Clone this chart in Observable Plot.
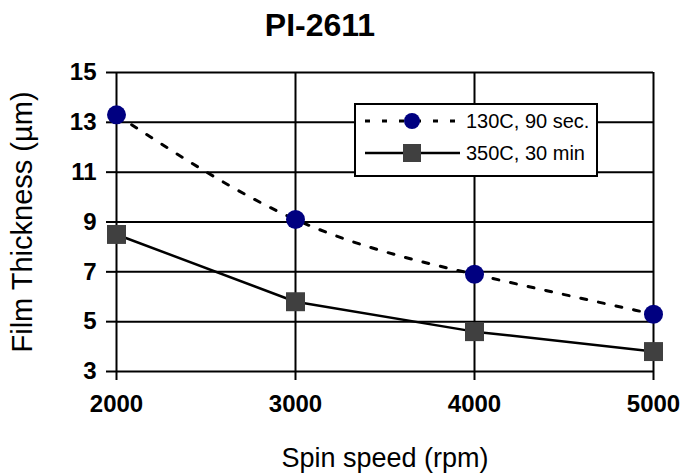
<!DOCTYPE html>
<html><head><meta charset="utf-8">
<script src="https://cdn.jsdelivr.net/npm/d3@7"></script>
<script src="https://cdn.jsdelivr.net/npm/@observablehq/plot@0.6"></script>
<style>
body{margin:0;background:#fff;font-family:"Liberation Sans",Arial,sans-serif;}
#wrap{position:relative;width:683px;height:473px;overflow:hidden;}
#title{position:absolute;left:0;top:0;width:640px;height:50px;text-align:center;font-weight:bold;font-size:32px;line-height:50px;}
#chart{position:absolute;left:0;top:50px;}
#legend{position:absolute;left:354px;top:103px;width:240px;height:70px;border:2px solid #000;background:#fff;}
.row{position:absolute;left:0;width:240px;height:32px;}
.row svg{position:absolute;left:0;top:0;}
.row span{position:absolute;left:110px;top:0;line-height:32px;font-size:20px;white-space:nowrap;}
</style></head><body>
<div id="wrap"><div id="title">PI-2611</div><div id="chart"></div><div id="legend"></div></div>
<script>
const speeds = [2000, 3000, 4000, 5000];
const soft = [13.3, 9.1, 6.9, 5.3];
const cured = [8.5, 5.8, 4.6, 3.8];
const seriesNames = ["130C, 90 sec.", "350C, 30 min"];
const yTicks = [3, 5, 7, 9, 11, 13, 15];
const xTicks = [2000, 3000, 4000, 5000];
const xTitle = "Spin speed (rpm)";
const yTitle = "Film Thickness (µm)";

const softData = speeds.map((s, i) => ({speed: s, t: soft[i]}));
const curedData = speeds.map((s, i) => ({speed: s, t: cured[i]}));
const font = '"Liberation Sans", Arial, sans-serif';

const chart = Plot.plot({
  width: 683, height: 423,
  marginTop: 22, marginBottom: 102, marginLeft: 116, marginRight: 30,
  style: {fontFamily: font, background: "white", color: "black", overflow: "visible"},
  x: {domain: [2000, 5000]},
  y: {domain: [3, 15]},
  marks: [
    Plot.gridY(yTicks, {stroke: "black", strokeOpacity: 1, strokeWidth: 2}),
    Plot.gridX(xTicks, {stroke: "black", strokeOpacity: 1, strokeWidth: 2}),
    Plot.axisY(yTicks, {tickSize: 10, tickPadding: 10, fontSize: 24, fontWeight: "bold", strokeWidth: 2, label: null}),
    Plot.axisX(xTicks, {tickSize: 9, tickPadding: 14, fontSize: 24, fontWeight: "bold", strokeWidth: 2, label: null, tickFormat: d => String(d)}),
    Plot.text([yTitle], {frameAnchor: "left", textAnchor: "middle", lineAnchor: "middle", rotate: -90, dx: -94, fontSize: 29}),
    Plot.text([xTitle], {frameAnchor: "bottom", lineAnchor: "middle", dy: 87, fontSize: 27}),
    Plot.line(softData, {x: "speed", y: "t", curve: "natural", stroke: "black", strokeWidth: 3, strokeDasharray: "6,12"}),
    Plot.line(curedData, {x: "speed", y: "t", stroke: "black", strokeWidth: 2.5}),
    Plot.dot(curedData, {x: "speed", y: "t", symbol: "square", r: 10.7, fill: "#404040", stroke: "none"}),
    Plot.dot(softData, {x: "speed", y: "t", r: 9.5, fill: "#000080", stroke: "none"})
  ]
});
document.getElementById("chart").appendChild(chart);

// legend
const legend = d3.select("#legend");
const rows = [
  {name: seriesNames[0], dash: "5,12", width: 3, symbol: "circle", fill: "#000080"},
  {name: seriesNames[1], dash: null, width: 2.5, symbol: "square", fill: "#404040"}
];
rows.forEach((r, i) => {
  const row = legend.append("div").attr("class", "row").style("top", (i * 32) + "px");
  const svg = row.append("svg").attr("width", 108).attr("height", 32);
  svg.append("line").attr("x1", 9).attr("x2", 104).attr("y1", 16).attr("y2", 16)
    .attr("stroke", "black").attr("stroke-width", r.width).attr("stroke-dasharray", r.dash);
  if (r.symbol === "circle") svg.append("circle").attr("cx", 56).attr("cy", 16).attr("r", 8).attr("fill", r.fill);
  else svg.append("rect").attr("x", 47).attr("y", 7).attr("width", 18).attr("height", 18).attr("fill", r.fill);
  row.append("span").text(r.name);
});
</script>
</body></html>
